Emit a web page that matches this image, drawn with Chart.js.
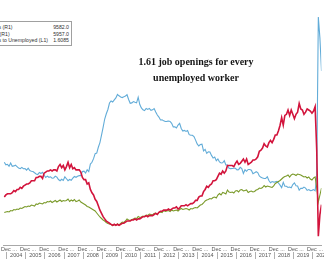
<!DOCTYPE html>
<html>
<head>
<meta charset="utf-8">
<script src="https://cdn.jsdelivr.net/npm/chart.js@4.4.0/dist/chart.umd.min.js"></script>
<style>
  html, body { margin: 0; padding: 0; background: #fff; overflow: hidden; }
  #wrap { position: relative; width: 324px; height: 260px; overflow: hidden; }
  #wrap canvas { position: absolute; left: 0; top: 0; }
  .legend {
    position: absolute; left: -34px; top: 21px; width: 106px;
    border: 1px solid #a0a0a0; background: #fff;
    font: 5.2px "Liberation Sans", Arial, sans-serif; color: #333;
    padding: 2px 2px 1px 2px; box-sizing: border-box;
  }
  .legend div { display: flex; justify-content: space-between; height: 6.6px; line-height: 6.6px; white-space: nowrap; }
  .title {
    position: absolute; left: 116px; top: 54px; width: 160px; text-align: center;
    font: bold 10px "Liberation Serif", "DejaVu Serif", serif; line-height: 15.5px; color: #151515;
  }
</style>
</head>
<body>
<div id="wrap">
  <canvas id="chart" width="324" height="260"></canvas>
  <div class="legend" id="legend"></div>
  <div class="title">1.61 job openings for every<br>unemployed worker</div>
</div>
<script>
// monthly series, Nov 2003 .. Jul 2020 (thousands / ratio)
const firstMonth = -2; // Nov 2003, Jan 2004 = 0

const unemployed = [
  8576, 8317,
  8370, 8167, 8491, 8170, 8212, 8286, 8136, 7990, 7927, 8061, 7932, 7934,
  7784, 7980, 7737, 7672, 7651, 7524, 7406, 7345, 7553, 7453, 7566, 7279,
  7064, 7184, 7072, 7120, 6980, 7001, 7175, 7091, 6847, 6727, 6872, 6762,
  7116, 6927, 6731, 6850, 6766, 6979, 7149, 7067, 7170, 7237, 7240, 7645,
  7685, 7497, 7822, 7637, 8395, 8575, 8937, 9438, 9494, 10074, 10538, 11286,
  12058, 12898, 13426, 13853, 14499, 14707, 14601, 14814, 15009, 15352, 15219, 15098,
  15046, 15113, 15202, 15325, 14849, 14474, 14512, 14648, 14579, 14516, 15081, 14348,
  14013, 13820, 13737, 13957, 13855, 13962, 13763, 13818, 13948, 13594, 13302, 13093,
  12797, 12813, 12713, 12646, 12660, 12692, 12656, 12471, 12115, 12124, 12005, 12298,
  12471, 11950, 11689, 11760, 11654, 11751, 11335, 11279, 11270, 11136, 10787, 10404,
  10202, 10349, 10380, 9702, 9859, 9460, 9608, 9599, 9262, 8990, 9090, 8717,
  8903, 8610, 8504, 8526, 8728, 8310, 8298, 7981, 7933, 7951, 7979, 7968,
  7819, 7838, 8064, 7942, 7462, 7826, 7670, 7850, 7853, 7773, 7432, 7516,
  7626, 7536, 7198, 7066, 7009, 6955, 6963, 7127, 6749, 6526, 6646, 6588,
  6613, 6672, 6497, 6289, 6036, 6566, 6174, 6179, 6052, 6100, 6025, 6339,
  6516, 6218, 6201, 5781, 5976, 5959, 6088, 5991, 5761, 5846, 5742, 5764,
  5846, 5720, 7140, 23090, 20986, 17697, 16308
];

const openings = [
  3550, 3600,
  3650, 3600, 3750, 3700, 3850, 3800, 3900, 3850, 4000, 3950, 4050, 4150,
  4100, 4200, 4150, 4300, 4250, 4200, 4400, 4350, 4500, 4450, 4400, 4550,
  4500, 4650, 4600, 4700, 4550, 4650, 4750, 4600, 4700, 4800, 4650, 4750,
  4700, 4750, 4900, 4650, 4800, 4700, 4850, 4650, 4700, 4800, 4600, 4500,
  4400, 4300, 4150, 4100, 4000, 3900, 3800, 3700, 3500, 3300, 3100, 2950,
  2800, 2700, 2550, 2450, 2400, 2350, 2250, 2350, 2300, 2400, 2300, 2450,
  2600, 2550, 2700, 2900, 2800, 2750, 2850, 2900, 3000, 2950, 3150, 3050,
  3100, 3200, 3150, 3300, 3250, 3400, 3350, 3300, 3450, 3500, 3350, 3550,
  3600, 3550, 3750, 3650, 3700, 3750, 3650, 3800, 3700, 3750, 3800, 3700,
  3850, 3950, 3850, 3900, 3950, 3900, 3800, 3950, 3900, 4000, 4050, 4000,
  4150, 4300, 4350, 4500, 4700, 4800, 4850, 4950, 4900, 5050, 5100, 5000,
  5300, 5450, 5300, 5550, 5500, 5400, 5800, 5600, 5550, 5600, 5500, 5700,
  5750, 5600, 5800, 5850, 5700, 5750, 5800, 5550, 5650, 5700, 5600, 5650,
  5800, 5850, 6000, 5950, 6050, 6250, 6100, 6200, 6150, 6100, 6050, 6200,
  6450, 6550, 6650, 6750, 6900, 7050, 7150, 7200, 7300, 7100, 7300, 7400,
  7350, 7250, 7400, 7350, 7300, 7200, 7100, 7150, 7000, 7100, 6900, 6800,
  7000, 7100, 6000, 4600, 5300, 6000, 6600
];

const ratio = [
  0.41, 0.43,
  0.44, 0.44, 0.44, 0.45, 0.47, 0.46, 0.48, 0.48, 0.50, 0.49, 0.51, 0.52,
  0.53, 0.53, 0.54, 0.56, 0.56, 0.56, 0.59, 0.59, 0.60, 0.60, 0.58, 0.63,
  0.64, 0.65, 0.65, 0.66, 0.65, 0.66, 0.66, 0.65, 0.69, 0.71, 0.68, 0.70,
  0.66, 0.69, 0.73, 0.68, 0.71, 0.67, 0.68, 0.66, 0.66, 0.66, 0.64, 0.59,
  0.57, 0.57, 0.53, 0.54, 0.48, 0.45, 0.43, 0.39, 0.37, 0.33, 0.29, 0.26,
  0.23, 0.21, 0.19, 0.18, 0.17, 0.16, 0.15, 0.16, 0.15, 0.16, 0.15, 0.16,
  0.17, 0.17, 0.18, 0.19, 0.19, 0.19, 0.20, 0.20, 0.21, 0.20, 0.21, 0.21,
  0.22, 0.23, 0.23, 0.24, 0.23, 0.24, 0.24, 0.24, 0.25, 0.26, 0.25, 0.27,
  0.28, 0.28, 0.29, 0.29, 0.29, 0.30, 0.29, 0.30, 0.31, 0.31, 0.32, 0.30,
  0.31, 0.33, 0.33, 0.33, 0.34, 0.33, 0.34, 0.35, 0.35, 0.36, 0.38, 0.38,
  0.41, 0.42, 0.42, 0.46, 0.48, 0.51, 0.50, 0.52, 0.53, 0.56, 0.56, 0.57,
  0.60, 0.63, 0.62, 0.65, 0.63, 0.65, 0.70, 0.70, 0.70, 0.70, 0.69, 0.72,
  0.74, 0.71, 0.72, 0.74, 0.76, 0.73, 0.76, 0.71, 0.72, 0.73, 0.75, 0.75,
  0.76, 0.78, 0.83, 0.84, 0.86, 0.90, 0.88, 0.87, 0.91, 0.93, 0.91, 0.94,
  0.98, 0.98, 1.02, 1.07, 1.14, 1.07, 1.16, 1.17, 1.21, 1.16, 1.21, 1.17,
  1.13, 1.17, 1.19, 1.27, 1.22, 1.21, 1.17, 1.19, 1.22, 1.21, 1.20, 1.18,
  1.20, 1.24, 0.84, 0.05, 0.25, 0.34, 0.40
];

const years = [2004, 2005, 2006, 2007, 2008, 2009, 2010, 2011, 2012,
               2013, 2014, 2015, 2016, 2017, 2018, 2019, 2020];
const legendValues = ['9582.0', '5957.0', '1.6085'];

// ticks: "Dec" on every December, "..." a few months later, years centred in their cell
const decTicks = [];
years.forEach((y, i) => {
  decTicks.push(-1 + 12 * i);
  decTicks.push(4.5 + 12 * i);
});
const yearTicks = years.map((y, i) => 5.5 + 12 * i);

function toPoints(arr) {
  return arr.map((v, i) => ({ x: firstMonth + i, y: v }));
}

const tickFont = { family: 'Liberation Sans', size: 5.5 };

const ctx = document.getElementById('chart');

const chart = new Chart(ctx, {
  type: 'line',
  data: {
    datasets: [{
      label: 'Job Openings to Unemployed (L1)',
      data: toPoints(ratio),
      borderColor: '#d2143c',
      borderWidth: 1.6,
      yAxisID: 'yL',
      order: 0
    }, {
      label: 'Job Openings (R1)',
      data: toPoints(openings),
      borderColor: '#7a9a2a',
      borderWidth: 1.1,
      yAxisID: 'yR',
      order: 1
    }, {
      label: 'Unemployed (R1)',
      data: toPoints(unemployed),
      borderColor: '#62acd8',
      borderWidth: 1.1,
      yAxisID: 'yR',
      order: 2
    }]
  },
  options: {
    responsive: false,
    animation: false,
    devicePixelRatio: 1,
    layout: { padding: 0, autoPadding: false },
    elements: { point: { radius: 0 }, line: { tension: 0 } },
    plugins: { legend: { display: false }, tooltip: { enabled: false } },
    scales: {
      x: {
        type: 'linear',
        min: -2.5,
        max: 196.9,
        bounds: 'data',
        weight: 1,
        afterBuildTicks: (scale) => { scale.ticks = decTicks.map(v => ({ value: v })); },
        afterFit: (scale) => { scale.height = 7; },
        ticks: {
          autoSkip: false, maxRotation: 0, minRotation: 0,
          font: tickFont, color: '#555', padding: 1,
          callback: (v) => ((v + 1) % 12 === 0 ? 'Dec' : '...')
        },
        grid: { drawOnChartArea: false, drawTicks: false },
        border: { display: true, color: '#a8a8a8' }
      },
      x2: {
        type: 'linear',
        position: 'bottom',
        min: -2.5,
        max: 196.9,
        bounds: 'data',
        weight: 2,
        afterBuildTicks: (scale) => { scale.ticks = yearTicks.map(v => ({ value: v })); },
        afterFit: (scale) => { scale.height = 8; },
        ticks: {
          autoSkip: false, maxRotation: 0, minRotation: 0,
          font: tickFont, color: '#555', padding: -7,
          callback: (v, i) => String(years[i])
        },
        grid: { drawOnChartArea: false, offset: true, tickLength: 7, color: '#b0b0b0' },
        border: { display: false }
      },
      yR: { type: 'linear', display: false, min: 300, max: 24800 },
      yL: { type: 'linear', display: false, min: -0.03, max: 2.22 }
    }
  }
});

// legend box, labels from the datasets
const legendOrder = [1, 2, 0];
const legend = document.getElementById('legend');
legendOrder.forEach((di, i) => {
  const row = document.createElement('div');
  row.innerHTML = '<span>' + chart.data.datasets[di].label + '</span><span>' + legendValues[i] + '</span>';
  legend.appendChild(row);
});
</script>
</body>
</html>
